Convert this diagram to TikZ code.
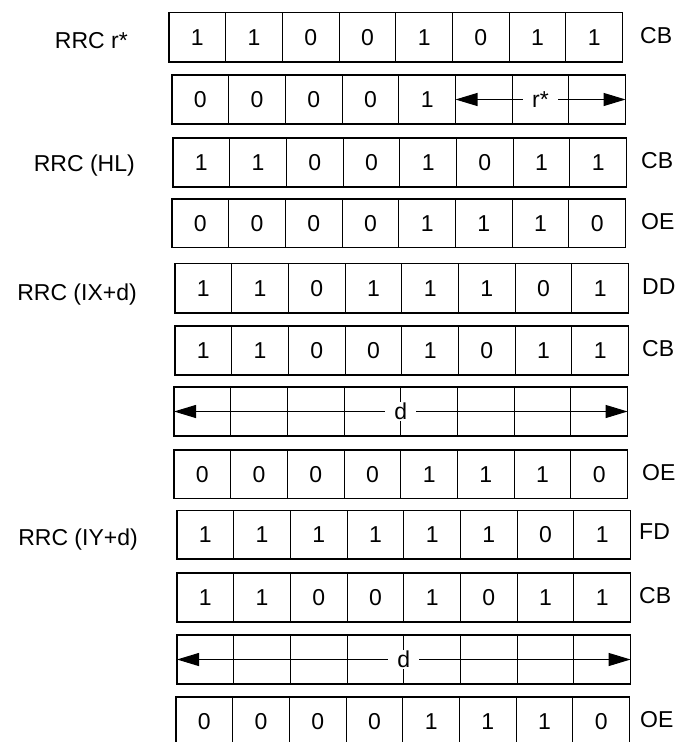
\documentclass[tikz,border=0pt]{standalone}
\usepackage{fontspec}
\setmainfont{Liberation Sans}
\usetikzlibrary{arrows.meta}
\newcommand{\bitrow}[5]{%
  \foreach \b [count=\i] in {#5} {%
    \node[cell, minimum height=#4pt] (#1-\i) at ({#2+(\i-0.5)*56.7},{#3+#4/2}) {\b};
  }%
  \draw[gridline] (#1-1.north west) rectangle (#1-8.south east);
  \foreach \k in {1,...,7} {%
    \draw[gridline] (#1-\k.north east) -- (#1-\k.south east);
  }%
}
\begin{document}
\begin{tikzpicture}[x=1pt,y=-1pt,
  cell/.style={minimum width=56.7pt, inner sep=0pt, outer sep=0pt, font=\fontsize{23}{27}\selectfont},
  gridline/.style={line width=1.1pt},
  arr/.style={line width=1.1pt, {Triangle[length=22pt,width=13pt]}-{Triangle[length=22pt,width=13pt]}},
  tag/.style={font=\fontsize{23}{27}\selectfont, inner sep=0pt},
  gaplabel/.style={font=\fontsize{23}{27}\selectfont, fill=white, inner xsep=9pt, inner ysep=1pt}]
\clip (0,0) rectangle (683,742);
\bitrow{r1}{169}{12.5}{49.5}{1,1,0,0,1,0,1,1}
\bitrow{r2}{172}{75}{49}{0,0,0,0,1,{},{},{}}
\bitrow{r3}{173}{138}{49}{1,1,0,0,1,0,1,1}
\bitrow{r4}{172}{199}{48.5}{0,0,0,0,1,1,1,0}
\bitrow{r5}{175}{263.5}{49.5}{1,1,0,1,1,1,0,1}
\bitrow{r6}{175}{326}{49}{1,1,0,0,1,0,1,1}
\bitrow{r7}{174}{387}{49}{{},{},{},{},{},{},{},{}}
\bitrow{r8}{174}{450}{48.5}{0,0,0,0,1,1,1,0}
\bitrow{r9}{177}{510.5}{48.5}{1,1,1,1,1,1,0,1}
\bitrow{r10}{177}{573}{49}{1,1,0,0,1,0,1,1}
\bitrow{r11}{177}{635}{49}{{},{},{},{},{},{},{},{}}
\bitrow{r12}{176}{697}{49}{0,0,0,0,1,1,1,0}
% arrows
\draw[arr] (r2-6.west) -- (r2-8.east);
\draw[arr] (r7-1.west) -- (r7-8.east);
\draw[arr] (r11-1.west) -- (r11-8.east);
\node[gaplabel] (rs) at (r2-7) {r*};
\node[gaplabel] (d1) at (r7-4.east) {d};
\node[gaplabel] (d2) at (r11-4.east) {d};
% right tags
\node[tag, anchor=base west] (t1) at (640,43) {CB};
\node[tag, anchor=base west] (t3) at (641,168.5) {CB};
\node[tag, anchor=base west] (t4) at (641,229) {OE};
\node[tag, anchor=base west] (t5) at (642,294) {DD};
\node[tag, anchor=base west] (t6) at (642,356) {CB};
\node[tag, anchor=base west] (t8) at (642,480) {OE};
\node[tag, anchor=base west] (t9) at (639,539) {FD};
\node[tag, anchor=base west] (t10) at (639,603) {CB};
\node[tag, anchor=base west] (t12) at (640,727) {OE};
% left labels
\node[tag, anchor=base east] (l1) at (128,48) {RRC r*};
\node[tag, anchor=base east] (l2) at (135,171.5) {RRC (HL)};
\node[tag, anchor=base east] (l3) at (137,300) {RRC (IX+d)};
\node[tag, anchor=base east] (l4) at (138,545) {RRC (IY+d)};
\end{tikzpicture}
\end{document}
